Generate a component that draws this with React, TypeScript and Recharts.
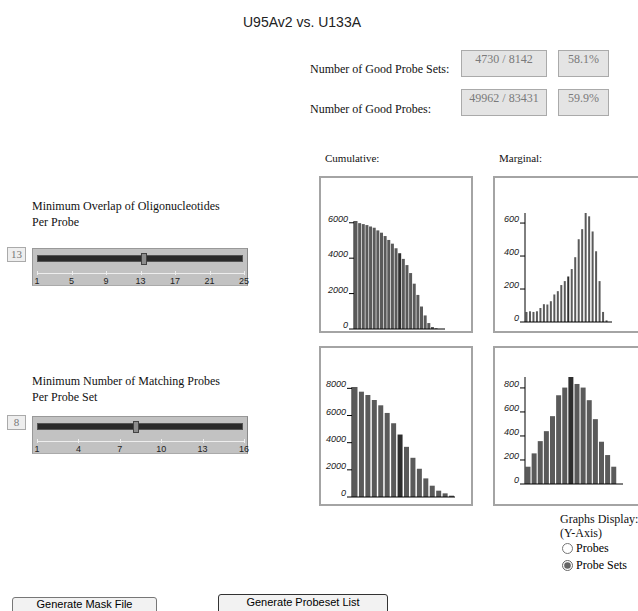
import React from 'react';
import { BarChart, Bar, XAxis, YAxis, Cell } from 'recharts';

// minimum overlap of oligonucleotides per probe (1..25)
const overlapCumulative = [6100, 5980, 5925, 5870, 5790, 5720, 5570, 5440, 5250, 5030, 4820, 4560, 4280, 3960, 3610, 3160, 2560, 1925, 1270, 766, 336, 112, 40, 0, 0];
const overlapMarginal = [61, 65, 61, 65, 85, 108, 106, 126, 167, 187, 224, 248, 276, 321, 393, 502, 563, 661, 641, 549, 429, 248, 61, 10, 0];
const overlapSelected = 13;
const overlapTicks = [1, 5, 9, 13, 17, 21, 25];

// minimum number of matching probes per probe set (1..16)
const probesCumulative = [8100, 7755, 7510, 7144, 6752, 6190, 5431, 4600, 3694, 2887, 2080, 1370, 832, 465, 269, 98];
const probesMarginal = [144, 255, 357, 440, 565, 739, 803, 891, 833, 803, 698, 540, 352, 241, 144, 0];
const probesSelected = 8;
const probesTicks = [1, 4, 7, 10, 13, 16];

const cumOverlapTicks = [0, 2000, 4000, 6000];
const margOverlapTicks = [0, 200, 400, 600];
const cumProbesTicks = [0, 2000, 4000, 6000, 8000];
const margProbesTicks = [0, 200, 400, 600, 800];

const SERIF = "'Liberation Serif', 'Times New Roman', serif";
const SANS = "'Liberation Sans', Arial, sans-serif";

const renderTick = (props: any) => {
  const { x, y, payload } = props;
  return (
    <text x={x + 1} y={y - 1} textAnchor="end" fontSize={9} fontStyle="italic" fill="#1a1a1a" fontFamily={SANS}>
      {payload.value}
    </text>
  );
};

function MiniBars({ values, ticks, selected, left, top, plotW, plotH }: any) {
  const data = values.map((v: number, i: number) => ({ x: i + 1, v }));
  const max = Math.max(...values);
  return (
    <div style={{ position: 'absolute', left: left - 40, top: top - 10 }}>
      <BarChart width={40 + plotW} height={10 + plotH + 2} data={data}
        margin={{ top: 10, right: 0, bottom: 0, left: 0 }} barCategoryGap={0.5}>
        <XAxis dataKey="x" tick={false} tickLine={false} height={2} axisLine={{ stroke: '#000' }} />
        <YAxis width={40} domain={[0, max]} ticks={ticks} interval={0} tick={renderTick}
          tickSize={5} tickLine={{ stroke: '#000' }} axisLine={{ stroke: '#000' }} />
        <Bar dataKey="v" isAnimationActive={false}>
          {data.map((d: any) => (
            <Cell key={d.x} fill={d.x === selected ? '#2e2e2e' : '#5a5a5a'} />
          ))}
        </Bar>
      </BarChart>
    </div>
  );
}

function Slider({ top, labels, value, thumbLeft }: any) {
  const lo = labels[0];
  const hi = labels[labels.length - 1];
  const pos = (v: number) => 37 + ((v - lo) / (hi - lo)) * 207;
  return (
    <>
      <div style={{ position: 'absolute', left: 7, top: top, width: 19, height: 15, boxSizing: 'border-box', border: '1px solid #aaa', background: '#eee', color: '#777', fontFamily: SERIF, fontSize: 11, lineHeight: '13px', textAlign: 'center' }}>
        {value}
      </div>
      <div style={{ position: 'absolute', left: 32, top: top + 1, width: 216, height: 38, boxSizing: 'border-box', background: '#c2c2c2', borderTop: '1px solid #999', borderLeft: '1px solid #999', borderRight: '1px solid #888', borderBottom: '1px solid #aaa' }} />
      <div style={{ position: 'absolute', left: 37, top: top + 8, width: 206, height: 7, boxSizing: 'border-box', background: '#2a2a2a', border: '1px solid #555' }} />
      <div style={{ position: 'absolute', left: thumbLeft, top: top + 6, width: 6, height: 12, boxSizing: 'border-box', background: '#8c8c8c', border: '1px solid #444' }} />
      <div style={{ position: 'absolute', left: 37, top: top + 26, width: 207, height: 1, background: '#eee' }} />
      {labels.map((v: number) => (
        <React.Fragment key={v}>
          <div style={{ position: 'absolute', left: pos(v), top: top + 24, width: 1, height: 4, background: '#eee' }} />
          <div style={{ position: 'absolute', left: pos(v) - 10, top: top + 29, width: 20, textAlign: 'center', fontFamily: SANS, fontSize: 9, lineHeight: '10px', color: '#222' }}>{v}</div>
        </React.Fragment>
      ))}
    </>
  );
}

const box = (left: number, top: number, width: number, text: string) => (
  <div style={{ position: 'absolute', left, top, width, height: 27, boxSizing: 'border-box', border: '1px solid #aaa', background: '#e4e4e4', color: '#7a7a7a', fontFamily: SERIF, fontSize: 12, lineHeight: '14px', paddingTop: 1, textAlign: 'center' }}>
    {text}
  </div>
);

const panel = (left: number, top: number, height: number) => (
  <div style={{ position: 'absolute', left, top, width: 154, height, boxSizing: 'border-box', border: '2px solid #a4a4a4', background: '#fff' }} />
);

const txt = (left: number, top: number, text: React.ReactNode, size = 12) => (
  <div style={{ position: 'absolute', left, top, fontFamily: SERIF, fontSize: size, lineHeight: '16px', color: '#111', whiteSpace: 'nowrap' }}>{text}</div>
);

const buttonStyle: React.CSSProperties = {
  position: 'absolute', padding: '0 0 8px 0', fontFamily: SANS, fontSize: 11, lineHeight: '12px',
  background: '#f2f2f2', borderRadius: 3, color: '#000', boxSizing: 'border-box',
};

export default function App() {
  return (
    <div style={{ position: 'absolute', left: 0, top: 0, width: 638, height: 611, overflow: 'hidden', background: '#fff' }}>
      <div style={{ position: 'absolute', left: 0, width: 604, top: 14, textAlign: 'center', fontFamily: SANS, fontSize: 14, color: '#222' }}>U95Av2 vs. U133A</div>

      {txt(310, 61, 'Number of Good Probe Sets:')}
      {box(461, 50, 86, '4730 / 8142')}
      {box(558, 50, 51, '58.1%')}
      {txt(310, 101, 'Number of Good Probes:')}
      {box(461, 89, 86, '49962 / 83431')}
      {box(558, 89, 51, '59.9%')}

      {txt(325, 150, 'Cumulative:', 11)}
      {txt(499, 150, 'Marginal:', 11)}

      {panel(319, 176, 157)}
      {panel(493, 176, 157)}
      {panel(319, 346, 160)}
      {panel(493, 346, 160)}

      <MiniBars values={overlapCumulative} ticks={cumOverlapTicks} selected={overlapSelected} left={354} top={221} plotW={91} plotH={108} />
      <MiniBars values={overlapMarginal} ticks={margOverlapTicks} selected={overlapSelected} left={525} top={213} plotW={87} plotH={109} />
      <MiniBars values={probesCumulative} ticks={cumProbesTicks} selected={probesSelected} left={352} top={387} plotW={103} plotH={110} />
      <MiniBars values={probesMarginal} ticks={margProbesTicks} selected={probesSelected} left={525} top={377} plotW={98} plotH={107} />

      {txt(32, 198, <>Minimum Overlap of Oligonucleotides<br />Per Probe</>)}
      <Slider top={247} labels={overlapTicks} value={overlapSelected} thumbLeft={141} />

      {txt(32, 373, <>Minimum Number of Matching Probes<br />Per Probe Set</>)}
      <Slider top={415} labels={probesTicks} value={probesSelected} thumbLeft={133} />

      {txt(560, 511, 'Graphs Display:')}
      {txt(560, 525, '(Y-Axis)')}
      <label style={{ position: 'absolute', left: 562, top: 541, fontFamily: SERIF, fontSize: 12, display: 'flex', alignItems: 'center' }}>
        <input type="radio" name="ydisp" style={{ margin: '0 3px 0 0', width: 11, height: 11, accentColor: '#666' }} readOnly />Probes
      </label>
      <label style={{ position: 'absolute', left: 562, top: 558, fontFamily: SERIF, fontSize: 12, display: 'flex', alignItems: 'center' }}>
        <input type="radio" name="ydisp" defaultChecked style={{ margin: '0 3px 0 0', width: 11, height: 11, accentColor: '#666' }} />Probe Sets
      </label>

      <button style={{ ...buttonStyle, left: 12, top: 597, width: 145, height: 22, border: '1px solid #777' }}>Generate Mask File</button>
      <button style={{ ...buttonStyle, left: 218, top: 594, width: 170, height: 24, border: '1px solid #333' }}>Generate Probeset List</button>
    </div>
  );
}
